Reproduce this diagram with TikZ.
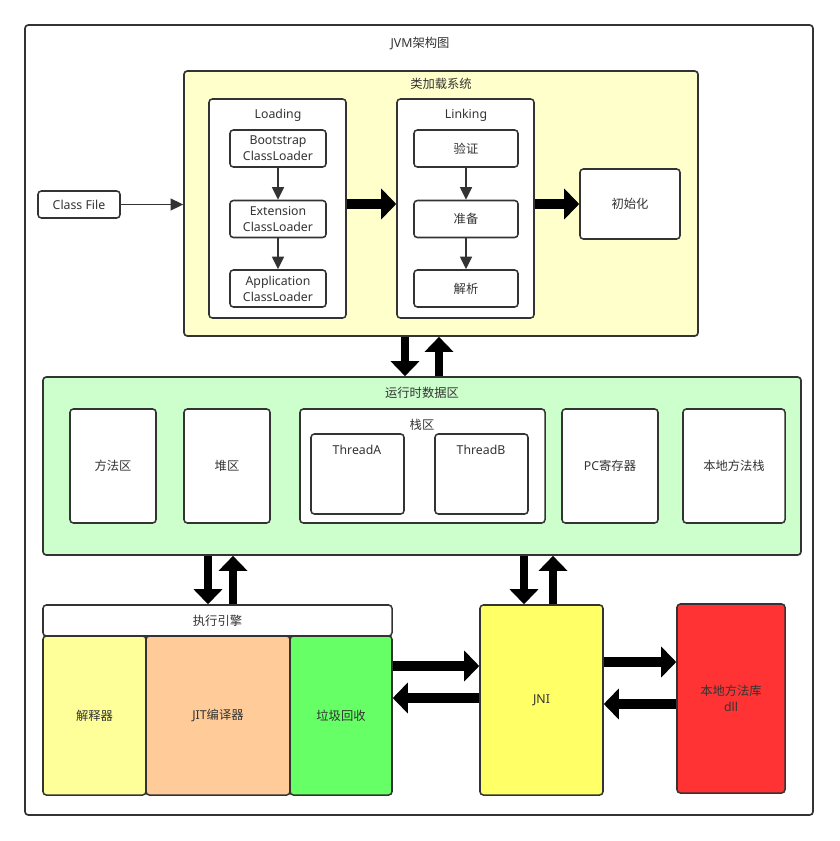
\documentclass[tikz,border=0pt]{standalone}
\usepackage{fontspec}
\setmainfont{Noto Sans}
\newfontfamily\cjk{Noto Sans CJK SC}
\usetikzlibrary{arrows.meta}
\definecolor{edge}{HTML}{333333}
\definecolor{loadbg}{HTML}{FFFFCC}
\definecolor{runbg}{HTML}{CCFFCC}
\definecolor{interp}{HTML}{FFFF99}
\definecolor{jitbg}{HTML}{FFCC99}
\definecolor{gcbg}{HTML}{66FF66}
\definecolor{jnibg}{HTML}{FFFF66}
\definecolor{libbg}{HTML}{FF3333}
\begin{document}
\begin{tikzpicture}[
  x=0.03cm, y=-0.03cm,
  font=\fontsize{10.5pt}{13.6pt}\selectfont, text=edge,
  box/.style={draw=edge, line width=1.3pt, rectangle, rounded corners=0.1cm, fill=white,
    align=center, inner sep=2pt},
  area/.style={box, line width=1.4pt},
  label/.style={anchor=center, text=edge},
  thinarrow/.style={-{Triangle[length=0.38cm, width=0.36cm]}, draw=edge, line width=1.3pt},
  bigh/.style={-{Triangle[length=0.45cm, width=0.9cm]}, draw=black, line width=0.3cm},
  bigv/.style={-{Triangle[length=0.45cm, width=0.84cm]}, draw=black, line width=0.25cm}]
  \useasboundingbox (0,0) rectangle (839,841);
  % outer frame
  \node[area, minimum width=23.64cm, minimum height=23.7cm] (jvm) at (419,420) {};
  \node[label] (jvmt) at (420,44) {JVM\cjk 架构图};
  % class loader subsystem
  \node[area, fill=loadbg, minimum width=15.42cm, minimum height=7.95cm] (cls) at (441,203.5) {};
  \node[label] (clst) at (441,84) {\cjk 类加载系统};
  \node[box, minimum width=4.11cm, minimum height=6.57cm] (load) at (277.5,208.5) {};
  \node[label] (loadt) at (278,115) {Loading};
  \node[box, minimum width=2.88cm, minimum height=1.11cm] (boot) at (278,148.5) {Bootstrap\\ClassLoader};
  \node[box, minimum width=2.88cm, minimum height=1.11cm] (ext) at (278,219) {Extension\\ClassLoader};
  \node[box, minimum width=2.88cm, minimum height=1.11cm] (app) at (278,288.5) {Application\\ClassLoader};
  \node[box, minimum width=4.11cm, minimum height=6.57cm] (link) at (465.5,208.5) {};
  \node[label] (linkt) at (466,115) {Linking};
  \node[box, minimum width=3.12cm, minimum height=1.11cm] (verify) at (466,148.5) {\cjk 验证};
  \node[box, minimum width=3.12cm, minimum height=1.11cm] (prepare) at (466,219) {\cjk 准备};
  \node[box, minimum width=3.12cm, minimum height=1.11cm] (resolve) at (466,288.5) {\cjk 解析};
  \node[box, minimum width=3.0cm, minimum height=2.1cm] (init) at (630,204) {\cjk 初始化};
  \node[box, minimum width=2.46cm, minimum height=0.81cm] (cf) at (79,204.5) {Class File};
  \draw[thinarrow] (cf) -- (cf -| cls.west);
  \draw[thinarrow] (boot) -- (ext);
  \draw[thinarrow] (ext) -- (app);
  \draw[thinarrow] (verify) -- (prepare);
  \draw[thinarrow] (prepare) -- (resolve);
  \draw[bigh] (load.east |- init) -- (link.west |- init);
  \draw[bigh] (link.east |- init) -- (init);
  % runtime data area
  \node[area, fill=runbg, minimum width=22.74cm, minimum height=5.34cm] (run) at (422,466) {};
  \node[label] (runt) at (422,393) {\cjk 运行时数据区};
  \node[box, minimum width=2.58cm, minimum height=3.42cm] (method) at (113,466) {\cjk 方法区};
  \node[box, minimum width=2.58cm, minimum height=3.42cm] (heap) at (227,466) {\cjk 堆区};
  \node[box, minimum width=7.35cm, minimum height=3.42cm] (stack) at (422.5,466) {};
  \node[label] (stackt) at (422,425) {\cjk 栈区};
  \node[box, minimum width=2.79cm, minimum height=2.4cm] (tha) at (357.5,474) {};
  \node[label] (that) at (357,450) {ThreadA};
  \node[box, minimum width=2.79cm, minimum height=2.4cm] (thb) at (481.5,474) {};
  \node[label] (thbt) at (481,450) {ThreadB};
  \node[box, minimum width=2.88cm, minimum height=3.42cm] (pc) at (610,466) {PC\cjk 寄存器};
  \node[box, minimum width=3.06cm, minimum height=3.42cm] (nstack) at (734,466) {\cjk 本地方法栈};
  % execution engine, JNI, native library
  \node[box, minimum width=10.47cm, minimum height=0.93cm] (exec) at (217.5,620.5) {\cjk 执行引擎};
  \node[box, fill=interp, minimum width=3.09cm, minimum height=4.77cm] (interp) at (94.5,715.5) {\cjk 解释器};
  \node[box, fill=jitbg, minimum width=4.32cm, minimum height=4.77cm] (jit) at (218,715.5) {JIT\cjk 编译器};
  \node[box, fill=gcbg, minimum width=3.06cm, minimum height=4.77cm] (gc) at (341,715.5) {\cjk 垃圾回收};
  \node[box, fill=jnibg, minimum width=3.69cm, minimum height=5.7cm] (jni) at (541.5,700) {JNI};
  \node[box, fill=libbg, minimum width=3.24cm, minimum height=5.67cm] (lib) at (731,698.5) {\cjk 本地方法库\\dll};
  \coordinate (v1) at (405,0);
  \coordinate (v2) at (439,0);
  \coordinate (v3) at (208,0);
  \coordinate (v4) at (233,0);
  \coordinate (v5) at (524,0);
  \coordinate (v6) at (553,0);
  \coordinate (h1) at (0,666);
  \coordinate (h2) at (0,698);
  \coordinate (h3) at (0,662);
  \coordinate (h4) at (0,704);
  \draw[bigv] (cls.south -| v1) -- (run.north -| v1);
  \draw[bigv] (run.north -| v2) -- (cls.south -| v2);
  \draw[bigv] (run.south -| v3) -- (exec.north -| v3);
  \draw[bigv] (exec.north -| v4) -- (run.south -| v4);
  \draw[bigv] (run.south -| v5) -- (jni.north -| v5);
  \draw[bigv] (jni.north -| v6) -- (run.south -| v6);
  \draw[bigh] (gc.east |- h1) -- (jni.west |- h1);
  \draw[bigh] (jni.west |- h2) -- (gc.east |- h2);
  \draw[bigh] (jni.east |- h3) -- (lib.west |- h3);
  \draw[bigh] (lib.west |- h4) -- (jni.east |- h4);
\end{tikzpicture}
\end{document}
